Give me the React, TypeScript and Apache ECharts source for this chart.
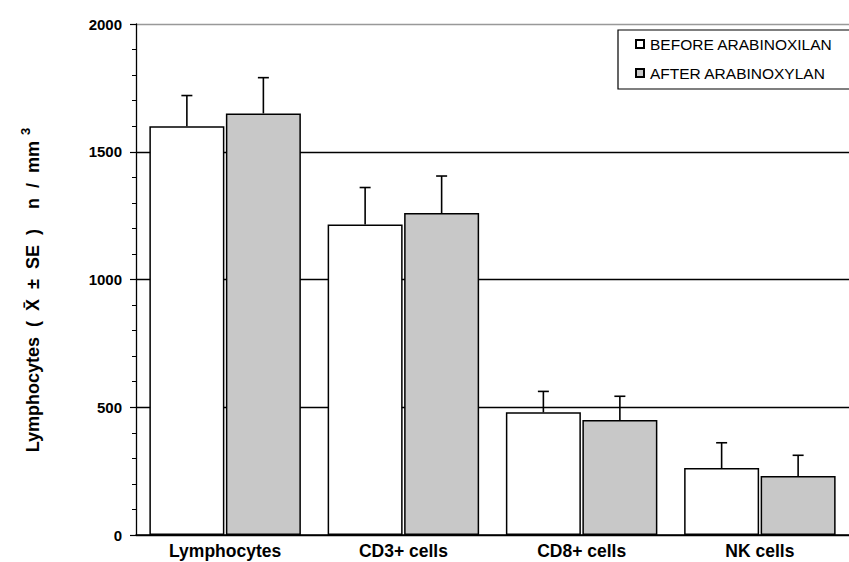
import React, { useEffect, useRef } from "react";
import * as echarts from "echarts";

const categories = ["Lymphocytes", "CD3+ cells", "CD8+ cells", "NK cells"];
const beforeValues = [1600, 1215, 480, 262];
const beforeErrors = [120, 145, 82, 99];
const afterValues = [1650, 1260, 450, 231];
const afterErrors = [140, 145, 93, 81];
const yTicks = [0, 500, 1000, 1500, 2000];
const seriesNames = ["BEFORE ARABINOXILAN", "AFTER ARABINOXYLAN"];

const FONT = "'Liberation Sans', Arial, sans-serif";
const BAR_W = 75;

function errorSeries(name: string, values: number[], errors: number[], side: number) {
  return {
    type: "custom",
    name: name + " SE",
    silent: true,
    z: 5,
    data: values.map((v, i) => [i, v, v + errors[i]]),
    renderItem: (params: any, api: any) => {
      const base = api.coord([api.value(0), api.value(1)]);
      const top = api.coord([api.value(0), api.value(2)]);
      const x = base[0] + side * (BAR_W / 2 + 0.75);
      const style = { stroke: "#000", lineWidth: 1.6 };
      return {
        type: "group",
        children: [
          { type: "line", shape: { x1: x, y1: base[1], x2: x, y2: top[1] }, style },
          { type: "line", shape: { x1: x - 5.5, y1: top[1], x2: x + 5.5, y2: top[1] }, style },
        ],
      };
    },
  };
}

export default function App() {
  const ref = useRef<HTMLDivElement>(null);
  useEffect(() => {
    document.body.style.margin = "0";
    if (!ref.current) return;
    const chart = echarts.init(ref.current, undefined, { renderer: "svg" });
    chart.setOption({
      animation: false,
      backgroundColor: "#fff",
      textStyle: { fontFamily: FONT },
      grid: { left: 136, top: 24, width: 720, height: 511 },
      legend: {
        orient: "vertical",
        left: 618,
        top: 30,
        data: seriesNames,
        icon: "rect",
        itemWidth: 8,
        itemHeight: 8,
        itemGap: 13,
        padding: [6, 40, 8, 17],
        borderColor: "#000",
        borderWidth: 1.2,
        backgroundColor: "#fff",
        textStyle: { fontFamily: FONT, fontSize: 15.5, color: "#000", padding: [0, 0, 0, 1] },
      },
      xAxis: {
        type: "category",
        data: categories,
        axisLine: { lineStyle: { color: "#000", width: 1.5 } },
        axisTick: { show: false },
        axisLabel: { fontFamily: FONT, fontWeight: "bold", fontSize: 17.5, color: "#000", margin: 7 },
      },
      yAxis: {
        type: "value",
        min: yTicks[0],
        max: yTicks[yTicks.length - 1],
        interval: 500,
        axisLine: { show: true, lineStyle: { color: "#000", width: 1.3 } },
        axisTick: { show: true, length: 6, lineStyle: { color: "#000", width: 1.2 } },
        minorTick: { show: true, splitNumber: 5, length: 4, lineStyle: { color: "#000", width: 1 } },
        axisLabel: {
          fontFamily: FONT,
          fontWeight: "bold",
          fontSize: 15,
          color: "#000",
          margin: 14,
          formatter: (v: number) => String(v),
        },
        splitLine: { show: true, lineStyle: { color: ["#000", "#000", "#000", "#000", "#999"], width: 1.3 } },
      },
      series: [
        {
          type: "bar",
          name: seriesNames[0],
          data: beforeValues,
          barWidth: BAR_W,
          barGap: "2%",
          itemStyle: { color: "#fff", borderColor: "#000", borderWidth: 1.5 },
        },
        {
          type: "bar",
          name: seriesNames[1],
          data: afterValues,
          barWidth: BAR_W,
          barGap: "2%",
          itemStyle: { color: "#c8c8c8", borderColor: "#000", borderWidth: 1.5 },
        },
        errorSeries(seriesNames[0], beforeValues, beforeErrors, -1),
        errorSeries(seriesNames[1], afterValues, afterErrors, 1),
      ],
      graphic: [
        {
          type: "text",
          x: 33,
          y: 290,
          rotation: Math.PI / 2,
          style: {
            text: "Lymphocytes  (  X\u0304  ±  SE  )    n  /  mm{s|3}",
            font: "bold 18px " + FONT,
            fill: "#000",
            align: "center",
            verticalAlign: "middle",
            rich: { s: { font: "bold 13px " + FONT, fill: "#000", padding: [0, 0, 16, 6] } },
          },
        },
      ],
    });
    return () => chart.dispose();
  }, []);
  return <div ref={ref} style={{ width: 849, height: 562 }} />;
}
